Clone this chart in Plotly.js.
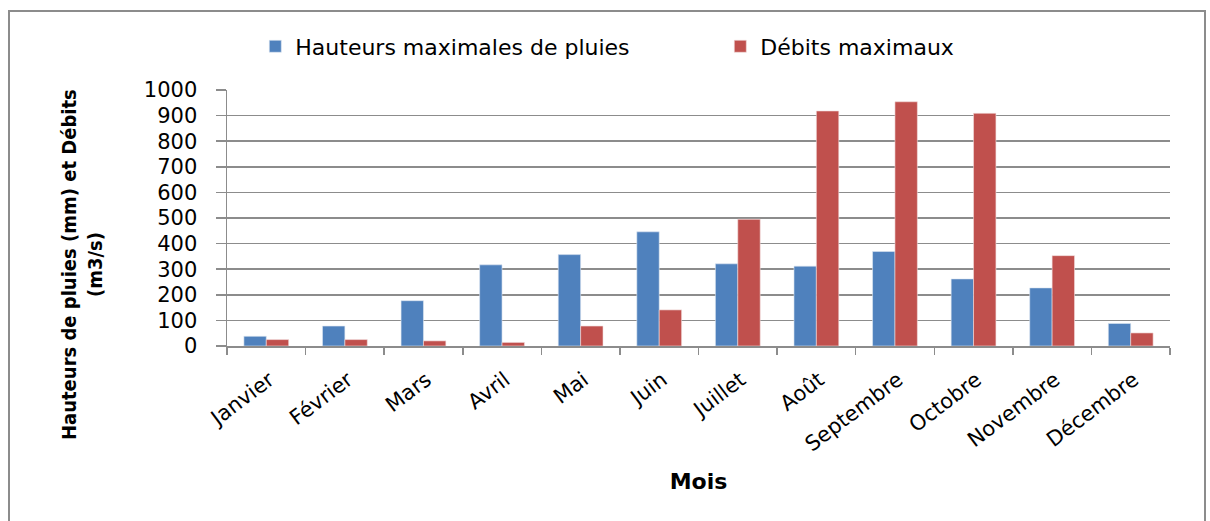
<!DOCTYPE html>
<html>
<head>
<meta charset="utf-8">
<script src="https://cdn.plot.ly/plotly-3.0.1.min.js"></script>
<style>
  html, body { margin: 0; padding: 0; background: #fff; }
  #chart { width: 1210px; height: 521px; }
</style>
</head>
<body>
<div id="chart"></div>
<script>
/* Données */
const mois = ['Janvier', 'Février', 'Mars', 'Avril', 'Mai', 'Juin',
              'Juillet', 'Août', 'Septembre', 'Octobre', 'Novembre', 'Décembre'];
const pluiesMax = [38, 78, 177, 317, 357, 446, 321, 312, 369, 262, 227, 88];   // mm
const debitsMax = [25, 25, 20, 14, 78, 141, 495, 918, 954, 909, 353, 51];     // m3/s

const BLUE = '#4F81BD';
const RED  = '#C0504D';
const GREY = '#8c8c8c';
const FONT = 'DejaVu Sans, sans-serif';

/* Traces */
const tPluies = {
  x: mois, y: pluiesMax, type: 'bar',
  name: 'Hauteurs maximales de pluies',
  marker: { color: BLUE, line: { color: '#dfe7f2', width: 0.6 } }
};
const tDebits = {
  x: mois, y: debitsMax, type: 'bar',
  name: 'Débits maximaux',
  marker: { color: RED, line: { color: '#f2dede', width: 0.6 } }
};

/* Layout */
const layout = {
  width: 1210, height: 521,
  margin: { l: 227, r: 40, t: 90, b: 175 },
  paper_bgcolor: '#fff', plot_bgcolor: '#fff',
  barmode: 'group', bargap: 0.43, bargroupgap: 0,
  font: { family: FONT, color: '#000' },
  showlegend: true,
  legend: {
    orientation: 'h', x: 0.03, xanchor: 'left', y: 1.17, yanchor: 'middle',
    bgcolor: 'rgba(0,0,0,0)',
    font: { size: 22, family: FONT }, itemwidth: 30,
    entrywidth: 420, entrywidthmode: 'pixels'
  },
  xaxis: {
    type: 'category',
    tickangle: -37,
    tickson: 'boundaries',
    ticks: 'outside', ticklen: 7, tickcolor: GREY, tickwidth: 1.5,
    showline: true, linecolor: GREY, linewidth: 1.5,
    showgrid: false,
    tickfont: { size: 21, family: FONT },
    ticklabelshift: 3,
    ticklabelstandoff: 12,
    title: { text: '<b>Mois</b>', font: { size: 22, family: FONT }, standoff: 18 },
    automargin: false
  },
  yaxis: {
    range: [0, 1000], dtick: 100,
    ticks: 'outside', ticklen: 10, tickcolor: GREY, tickwidth: 1.5,
    showline: true, linecolor: GREY, linewidth: 1.5,
    gridcolor: GREY, gridwidth: 1.5,
    zeroline: false,
    tickfont: { size: 21, family: FONT },
    ticklabelstandoff: 14,
    automargin: false
  },
  annotations: [{
    text: '<b>Hauteurs de pluies (mm) et Débits<br>(m3/s)</b>',
    textangle: -90,
    xref: 'paper', yref: 'paper',
    x: (82 - 227) / 943, y: (346 - 265) / 256,
    xanchor: 'center', yanchor: 'middle',
    showarrow: false,
    font: { size: 20, family: 'DejaVu Sans Condensed, DejaVu Sans, sans-serif' }
  }],
  shapes: [{
    type: 'rect', xref: 'paper', yref: 'paper',
    x0: (9 - 227) / 943, x1: (1205 - 227) / 943,
    y0: (346 - 530) / 256, y1: (346 - 11) / 256,
    line: { color: GREY, width: 2 }, fillcolor: 'rgba(0,0,0,0)', layer: 'below'
  }]
};

Plotly.newPlot('chart', [tPluies, tDebits], layout, { displayModeBar: false, staticPlot: true });
</script>
</body>
</html>
